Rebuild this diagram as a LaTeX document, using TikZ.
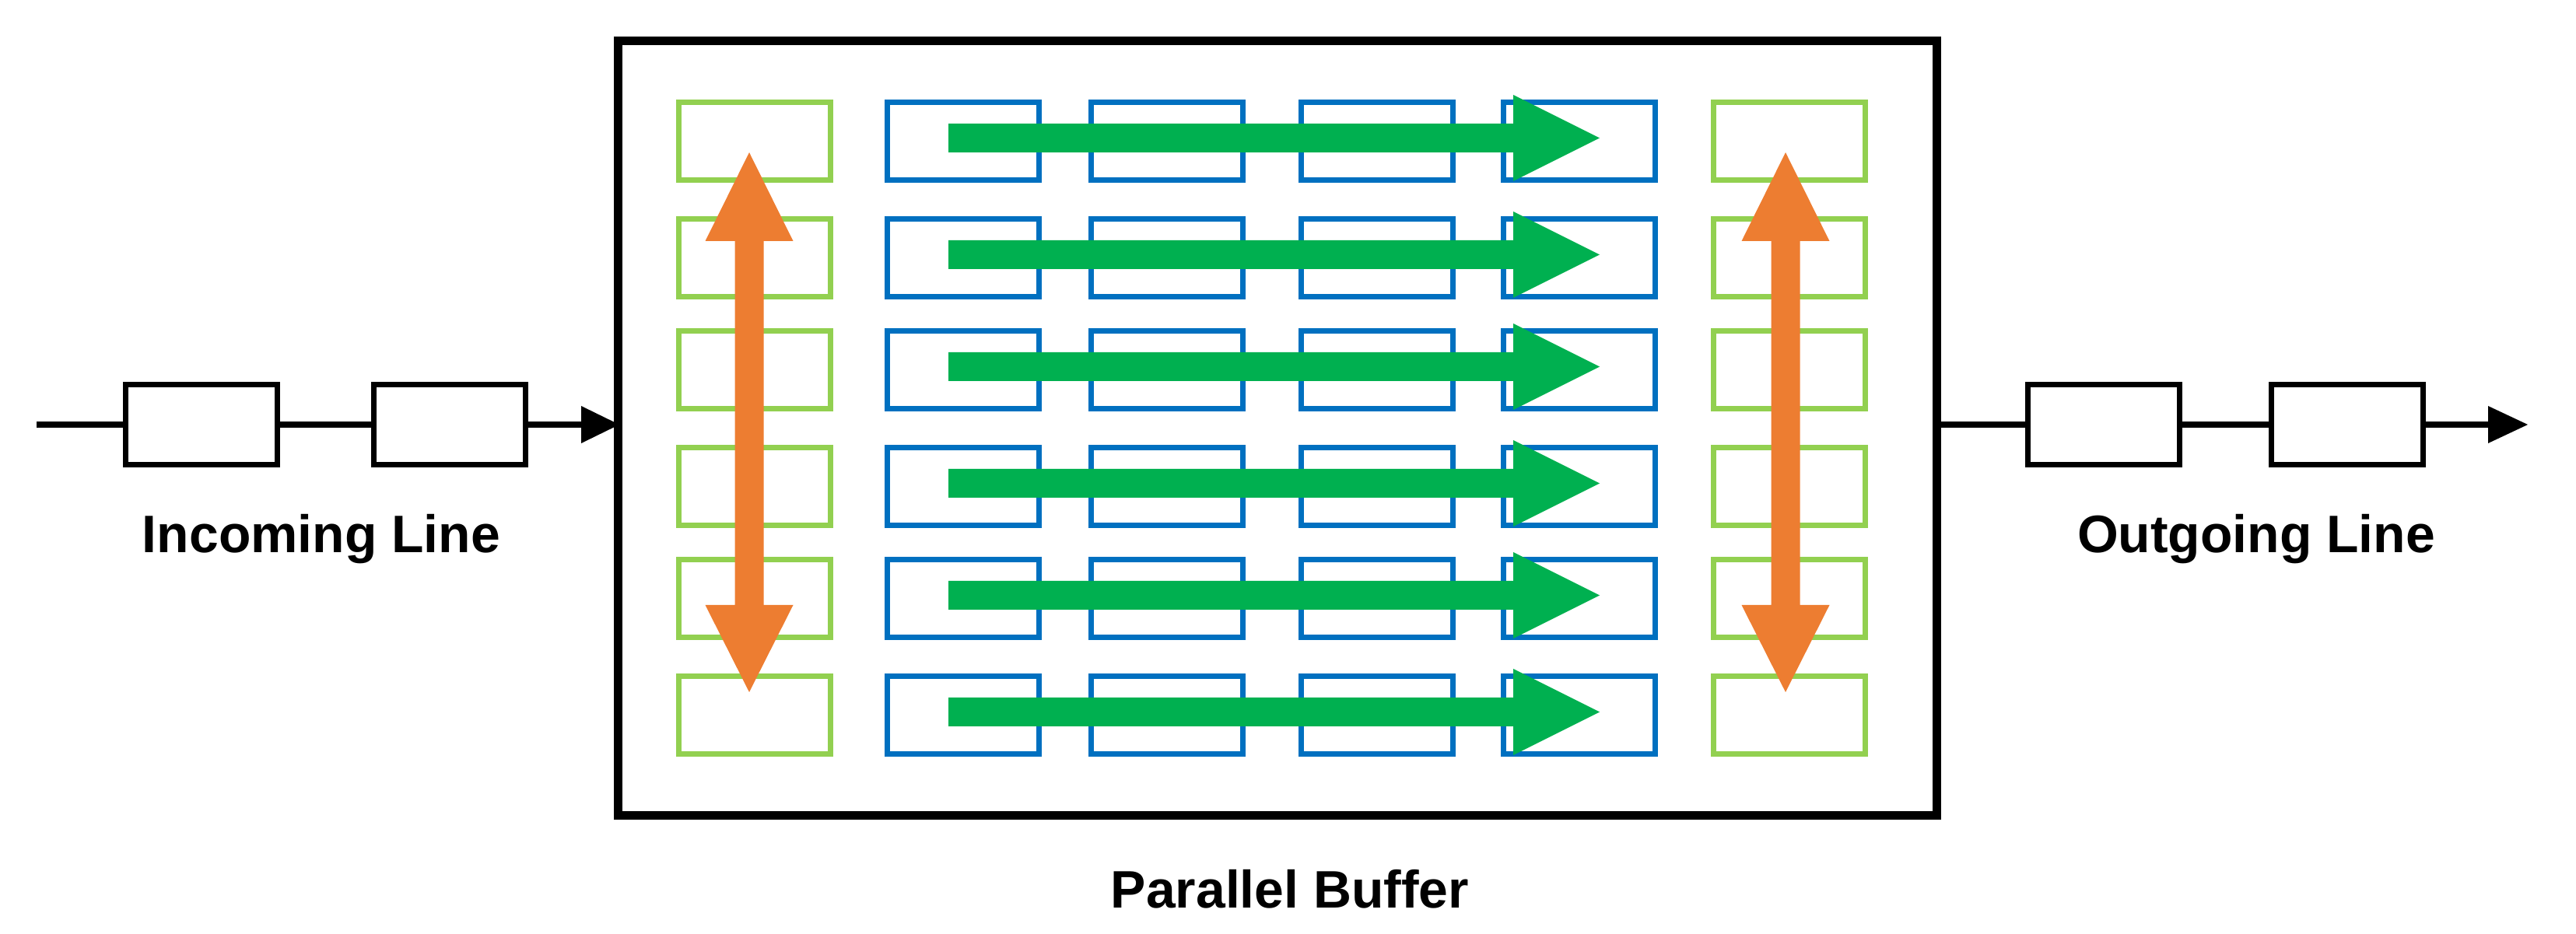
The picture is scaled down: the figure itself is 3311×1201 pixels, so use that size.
\documentclass[tikz,border=0pt]{standalone}
\usepackage{fontspec}
\setmainfont{Liberation Sans}
\definecolor{lg}{HTML}{92D050}
\definecolor{bl}{HTML}{0070C0}
\definecolor{ag}{HTML}{00B050}
\definecolor{og}{HTML}{ED7D31}
\begin{document}
\begin{tikzpicture}[x=0.01cm,y=-0.01cm,
  cell/.style={draw,line width=2pt,minimum width=1.95cm,minimum height=1.0cm,inner sep=0,anchor=north west},
  gcell/.style={cell,draw=lg},
  bcell/.style={cell,draw=bl},
  lbox/.style={draw=black,line width=2.1pt,minimum width=1.95cm,minimum height=1.03cm,inner sep=0},
  wire/.style={line width=2.1pt,black},
  lab/.style={font=\bfseries\fontsize{19.3}{22}\selectfont}]
\useasboundingbox (0,0) rectangle (3311,1201);
\node[draw,line width=3.2pt,minimum width=16.94cm,minimum height=9.95cm,inner sep=0,anchor=north west] (buf) at (789,47) {};
\foreach \i/\y in {1/128,2/278,3/422,4/572,5/716,6/866}{
  \node[gcell] (gl\i) at (869,\y) {};
  \node[gcell] (gr\i) at (2199,\y) {};
  \node[bcell] (b1\i) at (1137,\y) {};
  \node[bcell] (b2\i) at (1399,\y) {};
  \node[bcell] (b3\i) at (1669,\y) {};
  \node[bcell] (b4\i) at (1929,\y) {};
}
\foreach \c in {177.5,327.5,471.5,621.5,765.5,915.5}{
  \fill[ag] (1219,\c-18.5) -- (1945,\c-18.5) -- (1945,\c-55.5) -- (2056,\c) -- (1945,\c+55.5) -- (1945,\c+18.5) -- (1219,\c+18.5) -- cycle;
}
\foreach \x in {963,2295}{
  \fill[og] (\x-18.5,310) -- (\x-56.5,310) -- (\x,196) -- (\x+56.5,310) -- (\x+18.5,310) -- (\x+18.5,778) -- (\x+56.5,778) -- (\x,890) -- (\x-56.5,778) -- (\x-18.5,778) -- cycle;
}
\coordinate (in) at (47,546);
\node[lbox] (i1) at (259,546) {};
\node[lbox] (i2) at (578,546) {};
\node[lbox] (o1) at (2704,546) {};
\node[lbox] (o2) at (3017,546) {};
\coordinate (out) at (3249,546);
\draw[wire] (in) -- (i1.west) (i1.east) -- (i2.west) (i2.east) -- (747,546);
\fill (747,522) -- (796,546) -- (747,570) -- cycle;
\draw[wire] (buf.east |- o1.west) -- (o1.west) (o1.east) -- (o2.west) (o2.east) -- (3198,546);
\fill (3198,522) -- (out) -- (3198,570) -- cycle;
\node[lab] (tin) at (413,693) {Incoming Line};
\node[lab] (tout) at (2900,693) {Outgoing Line};
\node[lab] (tbuf) at (1658,1143) {Parallel Buffer};
\end{tikzpicture}
\end{document}
